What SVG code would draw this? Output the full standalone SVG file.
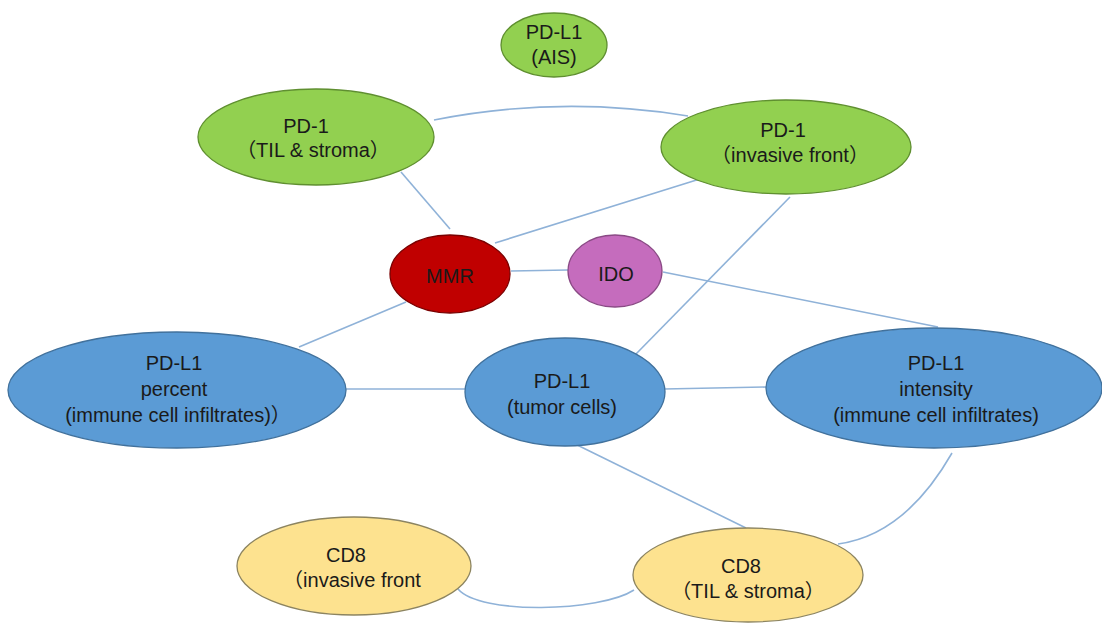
<svg xmlns="http://www.w3.org/2000/svg" width="1102" height="623" viewBox="0 0 1102 623">
<style>
.e{stroke-width:1.3}
.g{fill:#92d050;stroke:#5f8f30}
.b{fill:#5b9bd5;stroke:#41719c}
.r{fill:#c00000;stroke:#7a0000}
.p{fill:#c56cbd;stroke:#8a4a85}
.y{fill:#fde28f;stroke:#8c8460}
text{font-family:"Liberation Sans","Noto Sans CJK SC",sans-serif;font-size:20px;fill:#1a1a1a;text-anchor:middle}
.c path,.c line{stroke:#8fb2d8;stroke-width:1.6;fill:none}
</style>
<rect width="1102" height="623" fill="#ffffff"/>
<g class="c" id="connectors">
<path d="M434,120 Q560,95 688,116"/>
<line x1="401" y1="172" x2="450" y2="229"/>
<line x1="703" y1="178" x2="495" y2="243"/>
<line x1="790" y1="197" x2="636" y2="354"/>
<line x1="511" y1="271" x2="568" y2="270"/>
<line x1="663" y1="272" x2="938" y2="327"/>
<line x1="406" y1="302" x2="299" y2="347"/>
<line x1="346" y1="389" x2="465" y2="389"/>
<line x1="664" y1="389" x2="766" y2="387"/>
<line x1="567" y1="440" x2="746" y2="528"/>
<path d="M952,453 Q905,535 838,544"/>
<path d="M458,589 C480,615 600,612 634,590"/>
</g>
<g id="pdl1-ais"><ellipse class="e g" cx="554" cy="45" rx="53" ry="32"/><text x="554" y="39">PD-L1</text><text x="554" y="64">(AIS)</text></g>
<g id="pd1-til"><ellipse class="e g" cx="316" cy="137" rx="118" ry="48"/><text x="306" y="133">PD-1</text><text x="313" y="157">（TIL &amp; stroma）</text></g>
<g id="pd1-inv"><ellipse class="e g" cx="786" cy="147" rx="125" ry="47"/><text x="783" y="137">PD-1</text><text x="790" y="162">（invasive front）</text></g>
<g id="mmr"><ellipse class="e r" cx="450" cy="274" rx="60" ry="39"/><text x="450" y="283">MMR</text></g>
<g id="ido"><ellipse class="e p" cx="615" cy="271" rx="47" ry="36"/><text x="616" y="281">IDO</text></g>
<g id="pdl1-percent"><ellipse class="e b" cx="177" cy="390" rx="169" ry="58"/><text x="174" y="370">PD-L1</text><text x="174" y="396">percent</text><text x="178" y="422">(immune cell infiltrates)）</text></g>
<g id="pdl1-tumor"><ellipse class="e b" cx="565" cy="392" rx="100" ry="54"/><text x="562" y="388">PD-L1</text><text x="562" y="414">(tumor cells)</text></g>
<g id="pdl1-intensity"><ellipse class="e b" cx="934" cy="388" rx="168" ry="60"/><text x="936" y="370">PD-L1</text><text x="936" y="396">intensity</text><text x="936" y="422">(immune cell infiltrates)</text></g>
<g id="cd8-inv"><ellipse class="e y" cx="354" cy="566" rx="117" ry="49"/><text x="346" y="562">CD8</text><text x="352" y="587">（invasive front</text></g>
<g id="cd8-til"><ellipse class="e y" cx="748" cy="575" rx="115" ry="47"/><text x="741" y="573">CD8</text><text x="748" y="598">（TIL &amp; stroma）</text></g>
</svg>
